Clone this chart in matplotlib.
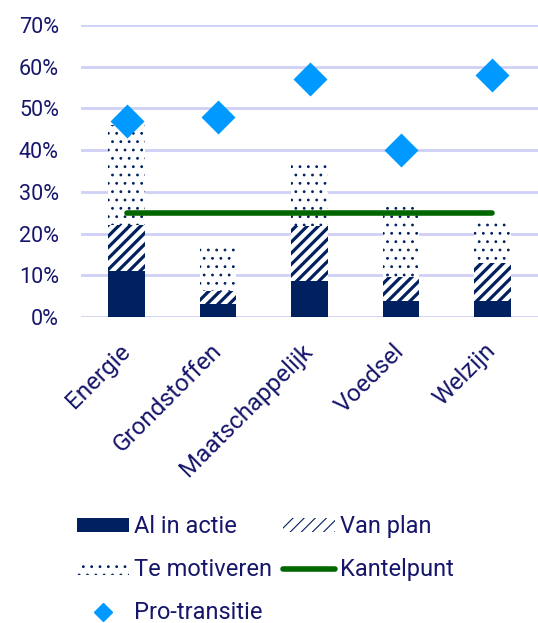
import matplotlib
matplotlib.use("Agg")
import matplotlib.pyplot as plt
from matplotlib.patches import Patch
from matplotlib.lines import Line2D
from matplotlib.ticker import PercentFormatter

# Data
categories = ["Energie", "Grondstoffen", "Maatschappelijk", "Voedsel", "Welzijn"]
al_in_actie = [0.11, 0.031, 0.087, 0.038, 0.038]
van_plan = [0.11, 0.031, 0.131, 0.059, 0.091]
te_motiveren = [0.24, 0.109, 0.151, 0.170, 0.108]
pro_transitie = [0.47, 0.48, 0.57, 0.40, 0.58]
kantelpunt = [0.25, 0.25, 0.25, 0.25, 0.25]
yticks = [0, 0.1, 0.2, 0.3, 0.4, 0.5, 0.6, 0.7]

navy = "#002060"
text_col = "#16166b"
grid_col = "#cfcff7"
diamond_col = "#0099ff"
green = "#006600"

plt.rcParams["font.family"] = ["Roboto", "DejaVu Sans"]
plt.rcParams["hatch.color"] = navy

fig = plt.figure(figsize=(5.38, 6.23), dpi=100)
ax = fig.add_axes([0.1506, 0.4912, 0.8494, 0.4687])

x = list(range(len(categories)))
w = 0.4
bottom2 = [a for a in al_in_actie]
bottom3 = [a + b for a, b in zip(al_in_actie, van_plan)]

ax.bar(x, al_in_actie, w, color=navy, zorder=2)
plt.rcParams["hatch.linewidth"] = 2.3
ax.bar(x, van_plan, w, bottom=bottom2, color="white", hatch="///",
       edgecolor=navy, linewidth=0, zorder=2)
hatch_legend = Patch(facecolor="white", edgecolor=navy, hatch="///", linewidth=0, label="Van plan")
plt.rcParams["hatch.linewidth"] = 0.8
ax.bar(x, te_motiveren, w, bottom=bottom3, color="white", hatch="..",
       edgecolor=navy, linewidth=0, zorder=2)
dots_legend = Patch(facecolor="white", edgecolor=navy, hatch="..", linewidth=0, label="Te motiveren")
ax.plot(x, kantelpunt, color=green, lw=4, solid_capstyle="round", zorder=3)
ax.scatter(x, pro_transitie, marker="D", s=300, color=diamond_col,
           linewidths=0, zorder=4)

ax.set_xlim(-0.5, 4.5)
ax.set_ylim(0, 0.7)
ax.set_yticks(yticks)
ax.yaxis.set_major_formatter(PercentFormatter(1.0, decimals=0))
ax.grid(axis="y", color=grid_col, lw=2, zorder=0)
ax.set_axisbelow(True)
for s in ax.spines.values():
    s.set_visible(False)
ax.tick_params(length=0, labelcolor=text_col)
ax.tick_params(axis="y", labelsize=15.5, pad=16)
ax.set_xticks(x)
ax.set_xticklabels(categories, rotation=45, ha="right", va="center",
                   rotation_mode="anchor")
ax.tick_params(axis="x", labelsize=17.5, pad=22)

handles = [
    Patch(facecolor=navy, edgecolor="none", label="Al in actie"),
    dots_legend,
    Line2D([], [], marker="D", color=diamond_col, ls="none", markersize=9, label="Pro-transitie"),
    hatch_legend,
    Line2D([], [], color=green, lw=4, solid_capstyle="round", label="Kantelpunt"),
]
leg = fig.legend(handles=handles, ncol=2, loc="upper left", bbox_to_anchor=(0.143, 0.173),
                 frameon=False, fontsize=17, handlelength=2.2, handleheight=0.55,
                 handletextpad=0.2, columnspacing=0.5, labelspacing=0.85,
                 borderpad=0, borderaxespad=0, labelcolor=text_col)

fig.savefig("out.png", dpi=100)
